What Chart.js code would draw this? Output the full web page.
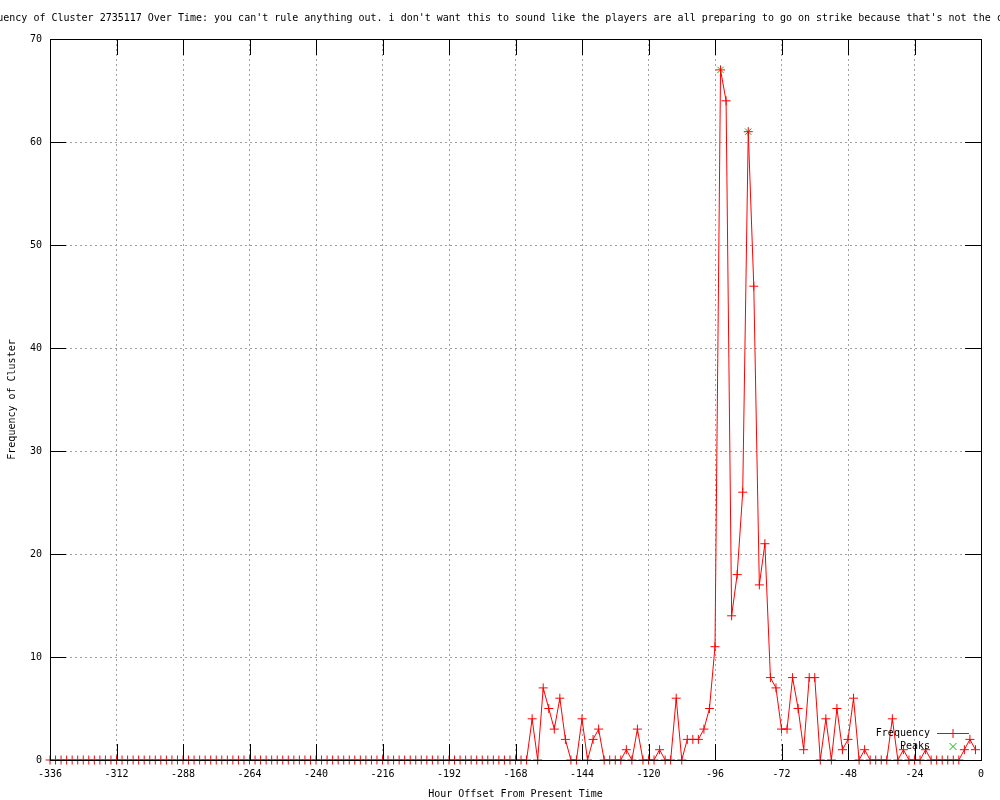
<!DOCTYPE html>
<html>
<head>
<meta charset="utf-8">
<script src="https://cdn.jsdelivr.net/npm/chart.js@4.4.0/dist/chart.umd.min.js"></script>
<style>
  html, body { margin: 0; padding: 0; background: #fff; }
</style>
</head>
<body>
<canvas id="clusterChart" width="1000" height="800"></canvas>
<script>
// hour offsets (x) and cluster frequency
const hours = [
  -336, -334, -332, -330, -328, -326, -324, -322, -320, -318, -316, -314,
  -312, -310, -308, -306, -304, -302, -300, -298, -296, -294, -292, -290,
  -288, -286, -284, -282, -280, -278, -276, -274, -272, -270, -268, -266,
  -264, -262, -260, -258, -256, -254, -252, -250, -248, -246, -244, -242,
  -240, -238, -236, -234, -232, -230, -228, -226, -224, -222, -220, -218,
  -216, -214, -212, -210, -208, -206, -204, -202, -200, -198, -196, -194,
  -192, -190, -188, -186, -184, -182, -180, -178, -176, -174, -172, -170,
  -168, -166, -164, -162, -160, -158, -156, -154, -152, -150, -148, -146,
  -144, -142, -140, -138, -136, -134, -132, -130, -128, -126, -124, -122,
  -120, -118, -116, -114, -112, -110, -108, -106, -104, -102, -100, -98,
  -96, -94, -92, -90, -88, -86, -84, -82, -80, -78, -76, -74,
  -72, -70, -68, -66, -64, -62, -60, -58, -56, -54, -52, -50,
  -48, -46, -44, -42, -40, -38, -36, -34, -32, -30, -28, -26,
  -24, -22, -20, -18, -16, -14, -12, -10, -8, -6, -4, -2
];
const frequency = [
  0, 0, 0, 0, 0, 0, 0, 0, 0, 0, 0, 0,
  0, 0, 0, 0, 0, 0, 0, 0, 0, 0, 0, 0,
  0, 0, 0, 0, 0, 0, 0, 0, 0, 0, 0, 0,
  0, 0, 0, 0, 0, 0, 0, 0, 0, 0, 0, 0,
  0, 0, 0, 0, 0, 0, 0, 0, 0, 0, 0, 0,
  0, 0, 0, 0, 0, 0, 0, 0, 0, 0, 0, 0,
  0, 0, 0, 0, 0, 0, 0, 0, 0, 0, 0, 0,
  0, 0, 0, 4, 0, 7, 5, 3, 6, 2, 0, 0,
  4, 0, 2, 3, 0, 0, 0, 0, 1, 0, 3, 0,
  0, 0, 1, 0, 0, 6, 0, 2, 2, 2, 3, 5,
  11, 67, 64, 14, 18, 26, 61, 46, 17, 21, 8, 7,
  3, 3, 8, 5, 1, 8, 8, 0, 4, 0, 5, 1,
  2, 6, 0, 1, 0, 0, 0, 0, 4, 0, 1, 0,
  0, 0, 1, 0, 0, 0, 0, 0, 0, 1, 2, 1
];
const peakHours = [-94, -84];
const peakValues = [67, 61];

const xTicks = { min: -336, max: 0, step: 24 };
const yTicks = { min: 0, max: 70, step: 10 };

const titleText = "Frequency of Cluster 2735117 Over Time: you can't rule anything out. i don't want this to sound like the players are all preparing to go on strike because that's not the case.";

const MONO = "'DejaVu Sans Mono', 'Liberation Mono', monospace";
const font = { family: MONO, size: 10, weight: "normal" };

// gnuplot-like frame: title that may run off the canvas, box border,
// inward tick marks, key in the lower right
const gnuplotFrame = {
  id: "gnuplotFrame",
  afterDraw(chart) {
    const { ctx, chartArea: a, scales } = chart;
    const tic = 16;
    ctx.save();

    ctx.font = "10px " + MONO;
    ctx.fillStyle = "#000";
    ctx.textAlign = "center";
    ctx.textBaseline = "middle";
    ctx.fillText(titleText, chart.width / 2, 18);

    ctx.strokeStyle = "#000";
    ctx.lineWidth = 1;
    ctx.beginPath();
    scales.x.ticks.forEach((t) => {
      const px = Math.round(scales.x.getPixelForValue(t.value)) + 0.5;
      ctx.moveTo(px, a.bottom);
      ctx.lineTo(px, a.bottom - tic);
      ctx.moveTo(px, a.top);
      ctx.lineTo(px, a.top + tic);
    });
    scales.y.ticks.forEach((t) => {
      const py = Math.round(scales.y.getPixelForValue(t.value)) + 0.5;
      ctx.moveTo(a.left, py);
      ctx.lineTo(a.left + tic, py);
      ctx.moveTo(a.right, py);
      ctx.lineTo(a.right - tic, py);
    });
    ctx.stroke();
    ctx.strokeRect(Math.round(a.left) + 0.5, Math.round(a.top) + 0.5,
      Math.round(a.right - a.left), Math.round(a.bottom - a.top));

    // key
    const ds = chart.data.datasets;
    const textRight = a.right - 51;
    const sx0 = a.right - 44, sx1 = a.right - 12, mx = a.right - 28;
    ctx.textAlign = "right";
    ds.forEach((d, i) => {
      const y = a.bottom - 27 + i * 13 + 0.5;
      ctx.fillText(d.label, textRight, y);
      ctx.strokeStyle = d.borderColor;
      ctx.beginPath();
      if (d.showLine !== false) {
        ctx.moveTo(sx0, y);
        ctx.lineTo(sx1, y);
      }
      if (d.pointStyle === "cross") {
        ctx.moveTo(mx - 4.5, y); ctx.lineTo(mx + 4.5, y);
        ctx.moveTo(mx, y - 4.5); ctx.lineTo(mx, y + 4.5);
      } else {
        ctx.moveTo(mx - 3.5, y - 3.5); ctx.lineTo(mx + 3.5, y + 3.5);
        ctx.moveTo(mx - 3.5, y + 3.5); ctx.lineTo(mx + 3.5, y - 3.5);
      }
      ctx.stroke();
    });
    ctx.restore();
  }
};

new Chart(document.getElementById("clusterChart"), {
  type: "line",
  data: {
    datasets: [
      {
        label: "Frequency",
        data: hours.map((h, i) => ({ x: h, y: frequency[i] })),
        borderColor: "#ff0000",
        backgroundColor: "#ff0000",
        borderWidth: 1,
        pointStyle: "cross",
        pointRadius: 4.5,
        pointBorderWidth: 1,
        tension: 0,
        clip: false
      },
      {
        label: "Peaks",
        data: peakHours.map((h, i) => ({ x: h, y: peakValues[i] })),
        borderColor: "#00c000",
        backgroundColor: "#00c000",
        showLine: false,
        pointStyle: "crossRot",
        pointRadius: 4.5,
        pointBorderWidth: 1,
        clip: false
      }
    ]
  },
  options: {
    responsive: false,
    animation: false,
    events: [],
    layout: { padding: { top: 39 } },
    plugins: {
      legend: { display: false },
      tooltip: { enabled: false },
      title: { display: false }
    },
    scales: {
      x: {
        type: "linear",
        min: xTicks.min,
        max: xTicks.max,
        afterFit: (s) => { s.height = 40; },
        ticks: { stepSize: xTicks.step, color: "#000", font: font, padding: 8, maxRotation: 0 },
        grid: { color: "#a0a0a0", lineWidth: 1, drawTicks: false },
        border: { display: false, dash: [2, 3] },
        title: { display: true, text: "Hour Offset From Present Time", color: "#000", font: font, padding: 0 }
      },
      y: {
        min: yTicks.min,
        max: yTicks.max,
        afterFit: (s) => { s.width = 50; },
        ticks: { stepSize: yTicks.step, color: "#000", font: font, padding: 8 },
        grid: { color: "#a0a0a0", lineWidth: 1, drawTicks: false },
        border: { display: false, dash: [2, 3] },
        title: { display: true, text: "Frequency of Cluster", color: "#000", font: font, padding: { top: 6, bottom: 0 } }
      },
      yRight: {
        position: "right",
        min: 0,
        max: 1,
        afterFit: (s) => { s.width = 19; },
        ticks: { display: false },
        grid: { display: false, drawTicks: false },
        border: { display: false }
      }
    }
  },
  plugins: [gnuplotFrame]
});
</script>
</body>
</html>
